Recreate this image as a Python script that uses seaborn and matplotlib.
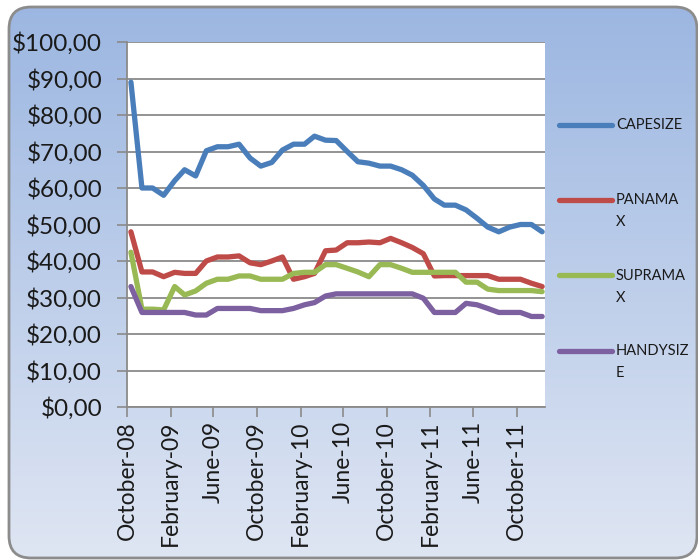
import numpy as np
import pandas as pd
import matplotlib
matplotlib.use("Agg")
import matplotlib.pyplot as plt
import matplotlib.dates as mdates
from matplotlib.patches import FancyBboxPatch
from matplotlib.legend_handler import HandlerLine2D
from matplotlib.colors import LinearSegmentedColormap
from matplotlib.ticker import FuncFormatter, MultipleLocator
import seaborn as sns

# ── Data (monthly, Oct 2008 – Dec 2011) ───────────────────────────────────────
START_MONTH = "2008-10-01"
N_MONTHS    = 39

capesize = [89, 60, 60, 58, 62, 65, 63.3, 70.2, 71.3, 71.3, 72, 68.2, 66, 67,
            70.4, 72, 72, 74.2, 73.1, 73, 70, 67.2, 66.8, 66, 66, 65, 63.5,
            60.7, 57, 55.3, 55.3, 54, 51.7, 49.3, 48, 49.3, 50, 50, 48]
panamax  = [48, 37, 37, 35.7, 36.9, 36.6, 36.6, 40, 41.1, 41.1, 41.4, 39.5, 39,
            40, 41.1, 35, 35.7, 36.6, 42.8, 43, 45, 45, 45.2, 45, 46.2, 45,
            43.7, 42, 35.9, 36, 36, 36, 36, 36, 35, 35, 35, 33.9, 33]
supramax = [42.4, 26.8, 26.8, 26.6, 33, 30.7, 31.8, 33.9, 35, 35, 35.9, 35.9,
            35, 35, 35, 36.6, 36.9, 36.9, 39, 39, 38, 37, 35.7, 39, 39, 38,
            36.9, 36.9, 36.9, 36.9, 36.9, 34.2, 34.2, 32.3, 31.9, 31.9, 31.9,
            31.9, 31.6]
handysize = [33, 25.9, 25.9, 25.9, 25.9, 25.9, 25.2, 25.2, 27, 27, 27, 27,
             26.4, 26.4, 26.4, 27, 28, 28.6, 30.4, 31, 31, 31, 31, 31, 31, 31,
             31, 29.8, 25.9, 25.9, 25.9, 28.4, 28, 27, 25.9, 25.9, 25.9, 24.8,
             24.8]

series_names  = ["CAPESIZE", "PANAMAX", "SUPRAMAX", "HANDYSIZE"]
legend_labels = ["CAPESIZE\n ", "PANAMA\nX", "SUPRAMA\nX", "HANDYSIZ\nE"]
colors        = ["#4a7ebb", "#be4b48", "#98b954", "#7d60a0"]

LEGEND_FS   = 10.5
LINESPACING = 1.73

# ── Styling ───────────────────────────────────────────────────────────────────
sns.set_style("white")
plt.rcParams["font.family"] = ["Lato", "DejaVu Sans"]

dates = pd.date_range(START_MONTH, periods=N_MONTHS, freq="MS") + pd.Timedelta(days=11)
df = pd.DataFrame({
    "date":  np.tile(dates, 4),
    "price": capesize + panamax + supramax + handysize,
    "type":  np.repeat(series_names, N_MONTHS),
})


class FirstLineHandler(HandlerLine2D):
    """Legend line aligned with the first line of a two-line label."""
    def create_artists(self, legend, orig_handle, xdescent, ydescent,
                       width, height, fontsize, trans):
        artists = super().create_artists(legend, orig_handle, xdescent, ydescent,
                                         width, height, fontsize, trans)
        for a in artists:
            a.set_ydata(np.asarray(a.get_ydata(), dtype=float) + 0.79 * fontsize)
        return artists


fig = plt.figure(figsize=(6.98, 5.60), dpi=100)
fig.patch.set_facecolor("white")

# ── Rounded gradient background ───────────────────────────────────────────────
bg = fig.add_axes([0, 0, 1, 1], zorder=-5)
bg.set_xlim(0, 698)
bg.set_ylim(0, 560)
bg.axis("off")
frame = FancyBboxPatch((9, 2), 688, 551, boxstyle="round,pad=0,rounding_size=22",
                       facecolor="none", edgecolor="#8c8c8c", linewidth=2, zorder=3)
bg.add_patch(frame)
grad = np.linspace(0, 1, 256).reshape(-1, 1)
cmap_bg = LinearSegmentedColormap.from_list("bg", ["#dfe6f3", "#9bb6e1"])
im = bg.imshow(grad, extent=[0, 698, 0, 560], origin="lower", aspect="auto",
               cmap=cmap_bg, zorder=1)
im.set_clip_path(frame)

# ── Main chart ────────────────────────────────────────────────────────────────
ax = fig.add_axes([127 / 698, 1 - 407 / 560, (545 - 127) / 698, (407 - 42) / 560])
ax.set_facecolor("white")

sns.lineplot(data=df, x="date", y="price", hue="type", palette=colors,
             hue_order=series_names, linewidth=3.8, ax=ax, legend=False,
             solid_capstyle="round", solid_joinstyle="round")

ax.set_ylim(0, 100)
ax.set_xlim(pd.Timestamp("2008-10-01"), pd.Timestamp("2011-12-20"))
ax.yaxis.set_major_locator(MultipleLocator(10))
ax.yaxis.set_major_formatter(FuncFormatter(lambda v, _: f"${v:.2f}".replace(".", ",")))
ax.xaxis.set_major_locator(mdates.MonthLocator(bymonth=[2, 6, 10]))
ax.xaxis.set_major_formatter(mdates.DateFormatter("%B-%y"))

ax.grid(axis="y", color="#8a8a8a", linewidth=1.3)
ax.set_axisbelow(True)
for side in ["top", "right"]:
    ax.spines[side].set_visible(False)
for side in ["left", "bottom"]:
    ax.spines[side].set_color("#8a8a8a")
    ax.spines[side].set_linewidth(1.3)

ax.tick_params(axis="y", direction="out", length=7, width=1.2, color="#8a8a8a",
               labelsize=17.5, pad=11, left=True, labelcolor="#1a1a1a")
ax.tick_params(axis="x", direction="out", length=7, width=1.2, color="#8a8a8a",
               labelsize=16.5, pad=3, bottom=True, labelrotation=90,
               labelcolor="#1a1a1a")
ax.set_xlabel("")
ax.set_ylabel("")

# ── Legend ────────────────────────────────────────────────────────────────────
lines = ax.get_lines()[:4]
leg = fig.legend(lines, legend_labels, loc="upper left",
                 bbox_to_anchor=(559 / 698, 1 - 118 / 560),
                 frameon=False, fontsize=LEGEND_FS, handlelength=3.6,
                 handletextpad=0.3, labelspacing=2.69, borderpad=0,
                 borderaxespad=0,
                 handler_map={l: FirstLineHandler() for l in lines})
for t in leg.get_texts():
    t.set_linespacing(LINESPACING)
    t.set_color("#1a1a1a")

fig.savefig("out.png", dpi=100)
